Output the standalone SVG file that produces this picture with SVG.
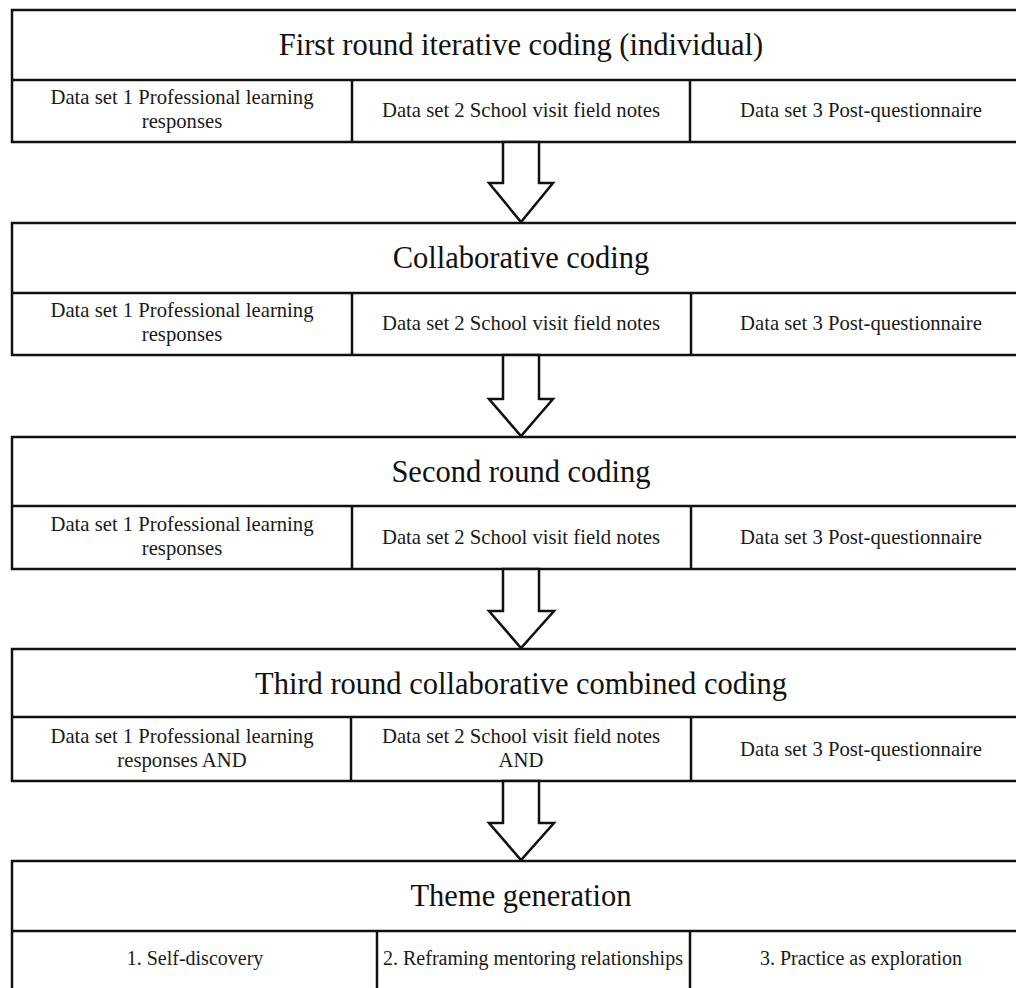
<svg xmlns="http://www.w3.org/2000/svg" width="1016" height="988" viewBox="0 0 1016 988">
<style>
.box{fill:#fff;stroke:#111;stroke-width:2.5}
.ln{stroke:#111;stroke-width:2.5;fill:none}
.arr{fill:#fff;stroke:#111;stroke-width:2.5;stroke-linejoin:miter}
.h{font-family:"Liberation Serif","Times New Roman",serif;font-size:30.5px;fill:#111;text-anchor:middle}
.t{font-family:"Liberation Serif","Times New Roman",serif;font-size:20.7px;fill:#1a1a1a;text-anchor:middle}
.s{font-size:20px}
</style>
<rect width="1016" height="988" fill="#fff"/>
<g id="stage1">
<rect class="box" x="12" y="10" width="1020" height="132"/>
<line class="ln" x1="12" y1="80" x2="1032" y2="80"/>
<line class="ln" x1="352" y1="80" x2="352" y2="142"/>
<line class="ln" x1="690" y1="80" x2="690" y2="142"/>
<text class="h" x="521" y="55">First round iterative coding (individual)</text>
<text class="t" x="182" y="104">Data set 1 Professional learning</text>
<text class="t" x="182" y="128">responses</text>
<text class="t" x="521" y="117">Data set 2 School visit field notes</text>
<text class="t" x="861" y="117">Data set 3 Post-questionnaire</text>
</g>
<g id="stage2">
<rect class="box" x="12" y="223" width="1020" height="132"/>
<line class="ln" x1="12" y1="293" x2="1032" y2="293"/>
<line class="ln" x1="352" y1="293" x2="352" y2="355"/>
<line class="ln" x1="691" y1="293" x2="691" y2="355"/>
<text class="h" x="521" y="268">Collaborative coding</text>
<text class="t" x="182" y="317">Data set 1 Professional learning</text>
<text class="t" x="182" y="341">responses</text>
<text class="t" x="521" y="330">Data set 2 School visit field notes</text>
<text class="t" x="861" y="330">Data set 3 Post-questionnaire</text>
</g>
<g id="stage3">
<rect class="box" x="12" y="437" width="1020" height="132"/>
<line class="ln" x1="12" y1="506" x2="1032" y2="506"/>
<line class="ln" x1="352" y1="506" x2="352" y2="569"/>
<line class="ln" x1="691" y1="506" x2="691" y2="569"/>
<text class="h" x="521" y="482">Second round coding</text>
<text class="t" x="182" y="531">Data set 1 Professional learning</text>
<text class="t" x="182" y="555">responses</text>
<text class="t" x="521" y="544">Data set 2 School visit field notes</text>
<text class="t" x="861" y="544">Data set 3 Post-questionnaire</text>
</g>
<g id="stage4">
<rect class="box" x="12" y="649" width="1020" height="132"/>
<line class="ln" x1="12" y1="717" x2="1032" y2="717"/>
<line class="ln" x1="351" y1="717" x2="351" y2="781"/>
<line class="ln" x1="691" y1="717" x2="691" y2="781"/>
<text class="h" x="521" y="694">Third round collaborative combined coding</text>
<text class="t" x="182" y="743">Data set 1 Professional learning</text>
<text class="t" x="182" y="767">responses AND</text>
<text class="t" x="521" y="743">Data set 2 School visit field notes</text>
<text class="t" x="521" y="767">AND</text>
<text class="t" x="861" y="756">Data set 3 Post-questionnaire</text>
</g>
<g id="stage5">
<rect class="box" x="12" y="861" width="1020" height="150"/>
<line class="ln" x1="12" y1="931" x2="1032" y2="931"/>
<line class="ln" x1="377" y1="931" x2="377" y2="1011"/>
<line class="ln" x1="690" y1="931" x2="690" y2="1011"/>
<text class="h" x="521" y="906">Theme generation</text>
<text class="t s" x="195" y="965">1. Self-discovery</text>
<text class="t s" x="533" y="965">2. Reframing mentoring relationships</text>
<text class="t s" x="861" y="965">3. Practice as exploration</text>
</g>
<g id="connectors">
<polygon class="arr" points="503,142 539,142 539,183 553,183 521,222 489,183 503,183"/>
<polygon class="arr" points="503,355 539,355 539,399 553,399 521,436 489,399 503,399"/>
<polygon class="arr" points="503,569 539,569 539,611 554,611 521,648 489,611 503,611"/>
<polygon class="arr" points="503,781 539,781 539,823 554,823 521,860 489,823 503,823"/>
</g>
</svg>
